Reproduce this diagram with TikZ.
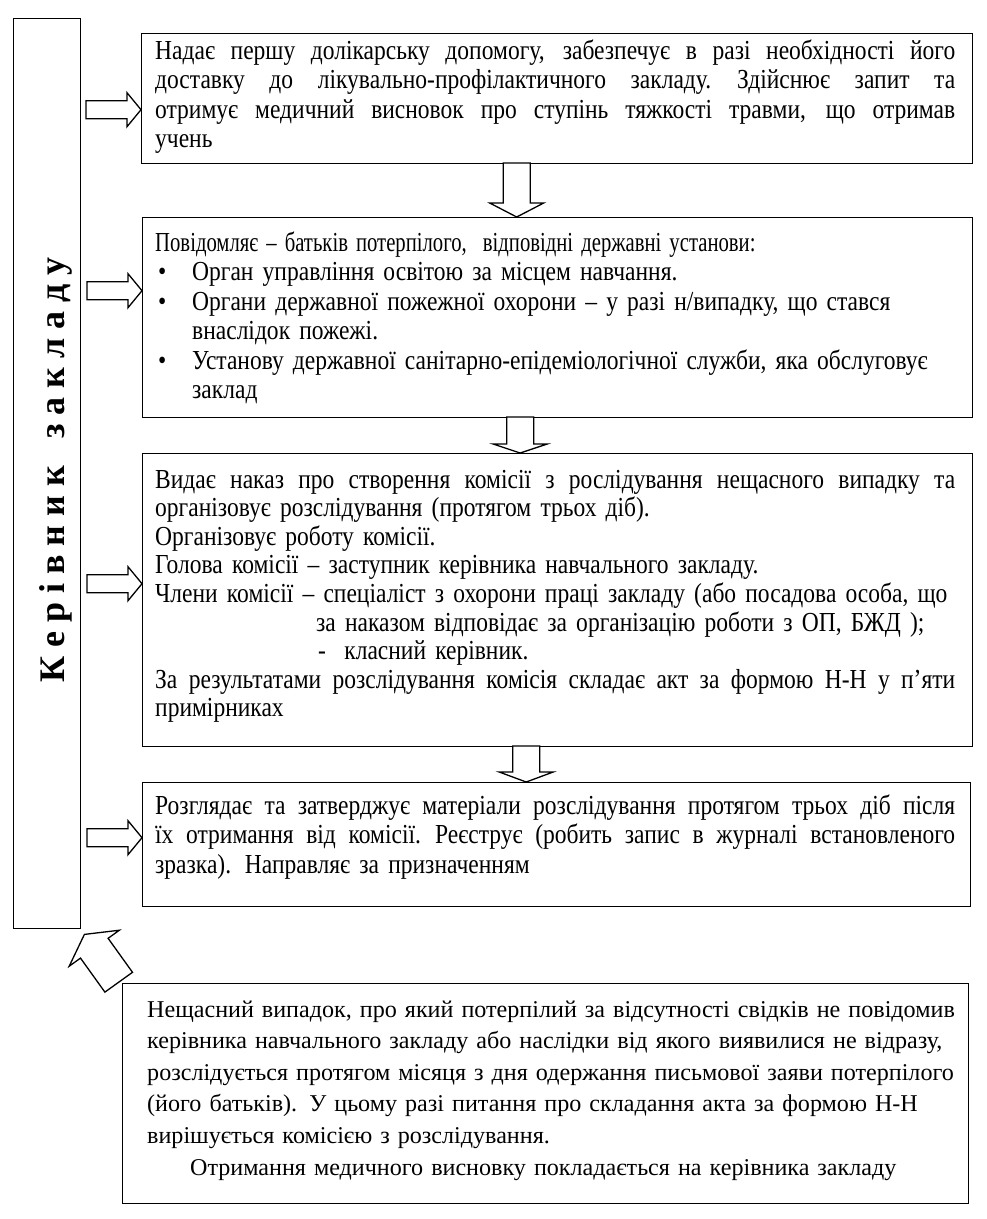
\documentclass[tikz,border=0pt]{standalone}
\usepackage{fontspec}
\usepackage{graphicx}
\setmainfont{Liberation Serif}
\newfontfamily\narrowfont[FakeStretch=0.855]{Liberation Serif}
\usetikzlibrary{calc}
\newlength{\boxtextwidth}
\setlength{\boxtextwidth}{800pt}
\newcommand{\mybullet}{\makebox[37pt][l]{\hspace{3pt}\textbullet}}
\newcommand{\jl}[1]{\makebox[\boxtextwidth][s]{\spaceskip=0.2em plus 1fil\xspaceskip=0.25em plus 1fil\relax #1}}
\begin{document}
\begin{tikzpicture}[x=1pt,y=-1pt,
  frame/.style={draw, line width=1.4pt, inner sep=0pt, anchor=north west},
  txt/.style={anchor=base west, inner sep=0pt, align=left, text width=\boxtextwidth,
    font=\narrowfont\fontsize{27.5}{29.5}\selectfont},
  blk/.style={draw, line width=1.3pt, fill=white, line join=miter},
  label/.style={rotate=90, inner sep=0pt, font=\bfseries\fontsize{36}{36}\selectfont}
]
\useasboundingbox (0,0) rectangle (987,1219);

% frames
\node[frame, minimum width=67pt, minimum height=910pt] (L) at (13,18) {};
\node[frame, minimum width=831pt, minimum height=130pt] (b1) at (141,33) {};
\node[frame, minimum width=830pt, minimum height=200pt] (b2) at (142,217) {};
\node[frame, minimum width=830pt, minimum height=293pt] (b3) at (142,453) {};
\node[frame, minimum width=828pt, minimum height=124pt] (b4) at (142,782) {};
\node[frame, minimum width=846pt, minimum height=220pt] (b5) at (122,983) {};

% vertical label
\node[label] (lab) at (56,470) {К е р і в н и к~~ з а к л а д у};

% texts
\node[txt] (t1) at (155,59) {%
\jl{Надає першу долікарську допомогу, забезпечує в разі необхідності його}\\
\jl{доставку до лікувально-профілактичного закладу. Здійснює запит та}\\
\jl{отримує медичний висновок про ступінь тяжкості травми, що отримав}\\
учень};

\node[txt] (t2) at (155,251) {%
\scalebox{0.88}[1]{Повідомляє – батьків потерпілого,~ відповідні державні установи:}\\
\mybullet Орган управління освітою за місцем навчання.\\
\mybullet Органи державної пожежної охорони – у разі н/випадку, що стався\\
\hspace*{37pt}внаслідок пожежі.\\
\mybullet Установу державної санітарно-епідеміологічної служби, яка обслуговує\\
\hspace*{37pt}заклад};

\node[txt, font=\narrowfont\fontsize{27.5}{28.6}\selectfont] (t3) at (155,488) {%
\jl{Видає наказ про створення комісії з рослідування нещасного випадку та}\\
організовує розслідування (протягом трьох діб).\\
Організовує роботу комісії.\\
Голова комісії – заступник керівника навчального закладу.\\
Члени комісії – спеціаліст з охорони праці закладу (або посадова особа, що\\
\hspace*{161pt}за наказом відповідає за організацію роботи з ОП, БЖД );\\
\hspace*{163pt}-~ класний керівник.\\
\jl{За результатами розслідування комісія складає акт за формою Н-Н у п’яти}\\
примірниках};

\node[txt] (t4) at (155,814) {%
\jl{Розглядає та затверджує матеріали розслідування протягом трьох діб після}\\
\jl{їх отримання від комісії. Реєструє (робить запис в журналі встановленого}\\
зразка). Направляє за призначенням};

\node[txt, text width=815pt, font=\fontsize{24.1}{31.6}\selectfont] (t5) at (147,1017) {%
Нещасний випадок, про який потерпілий за відсутності свідків не повідомив\\
керівника навчального закладу або наслідки від якого виявилися не відразу,\\
розслідується протягом місяця з дня одержання письмової заяви потерпілого\\
(його батьків). У цьому разі питання про складання акта за формою Н-Н\\
вирішується комісією з розслідування.\\
\hspace*{43pt}Отримання медичного висновку покладається на керівника закладу};

% horizontal block arrows (tip on target box)
\foreach \tgt/\dy in {b1/11, b2/-27, b3/-16.5, b4/-7} {
  \draw[blk] ([yshift=-\dy pt]\tgt.west) -- ++(-14,-17) -- ++(0,8) -- ++(-41,0)
    -- ++(0,18) -- ++(41,0) -- ++(0,8) -- cycle;
}

% vertical block arrows between boxes
\draw[blk] ([xshift=-41pt]b2.north) -- ++(-27,-14) -- ++(13.5,0) -- ++(0,-40)
  -- ++(27,0) -- ++(0,40) -- ++(13.5,0) -- cycle;
\draw[blk] ([xshift=-37.5pt]b3.north) -- ++(-27,-9) -- ++(13.5,0) -- ++(0,-27)
  -- ++(27,0) -- ++(0,27) -- ++(13.5,0) -- cycle;
\draw[blk] ([xshift=-30.5pt]b4.north) -- ++(-27,-10) -- ++(13.5,0) -- ++(0,-26)
  -- ++(27,0) -- ++(0,26) -- ++(13.5,0) -- cycle;

% diagonal block arrow from bottom box to the left box
\coordinate (dtip) at ($(L.south east)+(3,5)$);
\draw[blk] (dtip) -- ++(35,-4.2) -- ++(-11.3,8.1) -- ++(24.4,34) -- ++(-27.6,19.8)
  -- ++(-24.4,-34) -- ++(-11.3,8.1) -- cycle;
\end{tikzpicture}
\end{document}
